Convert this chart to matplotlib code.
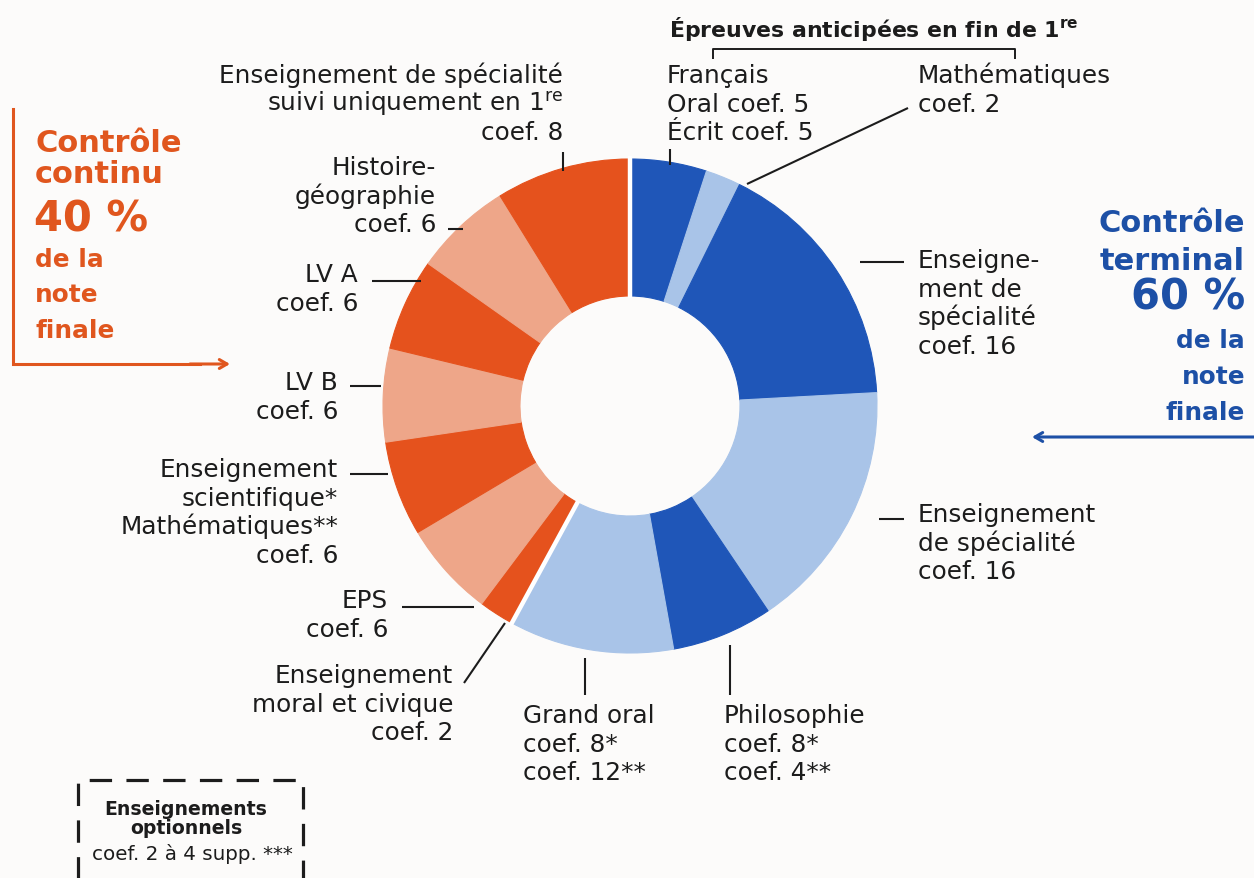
import matplotlib
matplotlib.use("Agg")
import matplotlib.pyplot as plt
import numpy as np

# ---------------- data ----------------
segments = ["Français", "Mathématiques", "Enseignement de spécialité (a)",
            "Enseignement de spécialité (b)", "Philosophie", "Grand oral",
            "Enseignement moral et civique", "EPS", "Enseignement scientifique",
            "LV B", "LV A", "Histoire-géographie", "Spécialité suivie en 1re"]
# angular share of the ring as drawn in the picture (percent of the circle)
drawn_share = [5.0, 2.3, 16.8, 16.4, 6.6, 10.75, 2.3, 6.2, 6.2, 6.1, 6.0, 6.4, 8.8]
shade = ["dark", "light", "dark", "light", "dark", "light",
         "dark", "light", "dark", "light", "dark", "light", "dark"]
group = ["terminal"] * 6 + ["continu"] * 7

# ---------------- style ----------------
BG = "#fcfbfa"
TXT = "#1c1c1c"
ORANGE_T = "#e0561e"
BLUE_T = "#1d50a6"
palette = {("terminal", "dark"): "#1f56b8", ("terminal", "light"): "#a9c4e8",
           ("continu", "dark"): "#e5521d", ("continu", "light"): "#eea689"}
colors = [palette[(g, s)] for g, s in zip(group, shade)]

FONT = ["DejaVu Sans"]
plt.rcParams["font.family"] = FONT
FS = 17.8

W_PX, H_PX = 1254, 879
fig = plt.figure(figsize=(W_PX / 100, H_PX / 100), dpi=100)
fig.patch.set_facecolor(BG)
ax = fig.add_axes([0, 0, 1, 1])
ax.set_facecolor(BG)

CX, CY, R, WID = 630, 407, 247, 137
wedges, _ = ax.pie(drawn_share, colors=colors, startangle=-90, counterclock=True,
                   radius=R, center=(CX, CY),
                   wedgeprops=dict(width=WID, linewidth=0.8))
for w, c in zip(wedges, colors):
    w.set_edgecolor(c)
ax.set_xlim(0, W_PX)
ax.set_ylim(H_PX, 0)
ax.set_aspect("equal")
ax.axis("off")

# white separators between the two groups (derived from the data)
cum = np.concatenate([[0], np.cumsum(drawn_share)])
total = cum[-1]
for i in range(len(group)):
    prev = group[i - 1]
    if group[i] != prev:
        th = np.deg2rad(360 * cum[i] / total)
        r0, r1 = R - WID - 2, R + 3
        ax.plot([CX + r0 * np.sin(th), CX + r1 * np.sin(th)],
                [CY - r0 * np.cos(th), CY - r1 * np.cos(th)],
                color="white", lw=3.2, solid_capstyle="butt", zorder=5)


def label(lines, x, y0, ha, step=28.7, size=FS, weight="normal", color=TXT):
    for i, s in enumerate(lines):
        ax.text(x, y0 + i * step, s, ha=ha, va="baseline", fontsize=size,
                fontweight=weight, color=color)


def leader(xs, ys, lw=1.5):
    ax.plot(xs, ys, color=TXT, lw=lw, solid_capstyle="butt")


SUP = "$\\mathregular{1^{re}}$"

# ---- top header ----
ax.text(669, 37, "Épreuves anticipées en fin de " + SUP, ha="left",
        va="baseline", fontsize=15.8, fontweight="bold", color=TXT)
leader([713, 713, 1015, 1015], [60, 50, 50, 60], lw=1.4)

label(["Français", "Oral coef. 5", "Écrit coef. 5"], 667, 83, "left")
leader([670, 670], [150, 166])
label(["Mathématiques", "coef. 2"], 918, 83, "left")
leader([908, 747], [109, 185])

# ---- left labels ----
label(["Enseignement de spécialité", "suivi uniquement en " + SUP,
       "coef. 8"], 563, 83, "right")
leader([563, 563], [153, 172])
label(["Histoire-", "géographie", "coef. 6"], 436, 175, "right")
leader([448, 463], [230, 230])
label(["LV A", "coef. 6"], 358, 282, "right")
leader([372, 421], [282, 282])
label(["LV B", "coef. 6"], 338, 390, "right")
leader([350, 381], [387, 387])
label(["Enseignement", "scientifique*", "Mathématiques**", "coef. 6"], 338, 477, "right")
leader([350, 388], [475, 475])
label(["EPS", "coef. 6"], 388, 608, "right")
leader([402, 474], [608, 608])
label(["Enseignement", "moral et civique", "coef. 2"], 453, 683, "right")
leader([464, 505], [684, 624])

# ---- bottom labels ----
label(["Grand oral", "coef. 8*", "coef. 12**"], 523, 723, "left")
leader([585, 585], [659, 696])
label(["Philosophie", "coef. 8*", "coef. 4**"], 724, 723, "left")
leader([730, 730], [646, 696])

# ---- right labels ----
label(["Enseigne-", "ment de", "spécialité", "coef. 16"], 918, 268, "left")
leader([860, 904], [263, 263])
label(["Enseignement", "de spécialité", "coef. 16"], 918, 522, "left")
leader([879, 904], [520, 520])

# ---- "Contrôle continu" block ----
label(["Contrôle", "continu"], 35, 152, "left", step=31, size=22,
      weight="bold", color=ORANGE_T)
ax.text(34, 232, "40 %", ha="left", va="baseline", fontsize=30,
        fontweight="bold", color=ORANGE_T)
label(["de la", "note", "finale"], 35, 267, "left", step=35.5, size=17.8,
      weight="bold", color=ORANGE_T)
ax.plot([13, 13, 200], [110, 365, 365], color=ORANGE_T, lw=2.2,
        solid_joinstyle="miter")
ax.annotate("", xy=(230, 365), xytext=(190, 365),
            arrowprops=dict(arrowstyle="->,head_length=0.55,head_width=0.32",
                            color=ORANGE_T, lw=2.2, shrinkA=0, shrinkB=0))

# ---- "Contrôle terminal" block ----
label(["Contrôle", "terminal"], 1245, 232, "right", step=38, size=22,
      weight="bold", color=BLUE_T)
ax.text(1245, 310, "60 %", ha="right", va="baseline", fontsize=30,
        fontweight="bold", color=BLUE_T)
label(["de la", "note", "finale"], 1245, 348, "right", step=36, size=17.8,
      weight="bold", color=BLUE_T)
ax.annotate("", xy=(1032, 438), xytext=(1260, 438),
            arrowprops=dict(arrowstyle="->,head_length=0.55,head_width=0.32",
                            color=BLUE_T, lw=2.2, shrinkA=0, shrinkB=0))

# ---- optional courses box ----
ax.plot([78, 78, 303, 303], [H_PX + 5, 781, 781, H_PX + 5], color=TXT, lw=2.3,
        linestyle=(0, (7, 4.5)), solid_joinstyle="miter")
ax.text(186, 815, "Enseignements", ha="center", va="baseline", fontsize=13.6,
        fontweight="bold", color=TXT)
ax.text(186, 834, "optionnels", ha="center", va="baseline", fontsize=13.6,
        fontweight="bold", color=TXT)
ax.text(192, 860, "coef. 2 à 4 supp. ***", ha="center", va="baseline",
        fontsize=14.3, color=TXT)

fig.savefig("out.png", dpi=100, facecolor=BG)
